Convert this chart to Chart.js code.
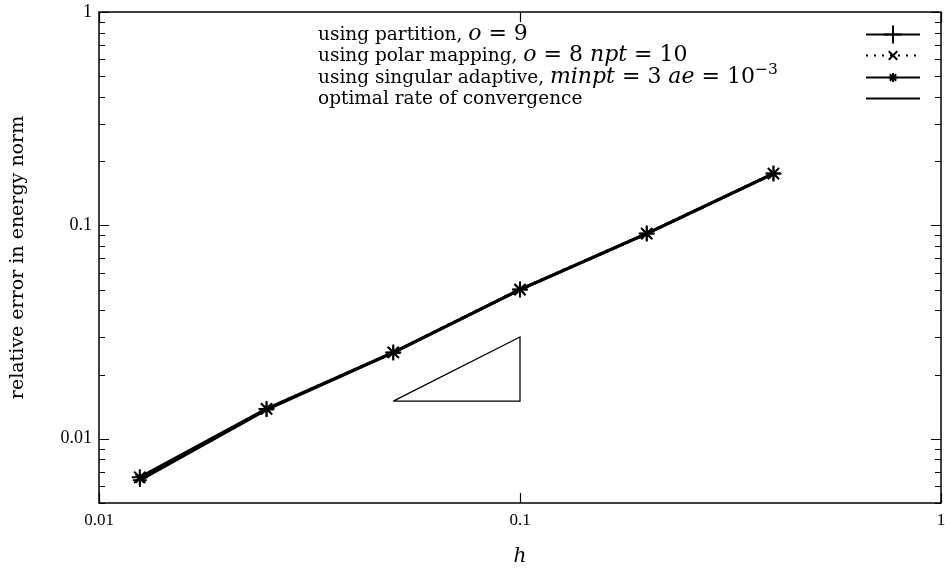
<!DOCTYPE html>
<html>
<head>
<meta charset="utf-8">
<script src="https://cdn.jsdelivr.net/npm/chart.js@4/dist/chart.umd.min.js"></script>
<style>
  html, body { margin: 0; padding: 0; background: #fff; }
  #chart { display: block; }
</style>
</head>
<body>
<canvas id="chart" width="945" height="571"></canvas>
<script>
// mesh size h and the error of each method
const hValues = [0.0125, 0.025, 0.05, 0.1, 0.2, 0.4];
const partitionErr = [0.0064, 0.0137, 0.0253, 0.0500, 0.0915, 0.175];
const polarErr = [0.0065, 0.0138, 0.0254, 0.0501, 0.0916, 0.175];
const adaptiveErr = [0.0066, 0.0138, 0.0254, 0.0500, 0.0916, 0.175];

// slope-1 reference triangle
const rateH = [0.05, 0.1, 0.1, 0.05];
const rateErr = [0.015, 0.015, 0.03, 0.015];

const xTickValues = [0.01, 0.1, 1];
const yTickValues = [0.005, 0.006, 0.007, 0.008, 0.009,
                     0.01, 0.02, 0.03, 0.04, 0.05, 0.06, 0.07, 0.08, 0.09,
                     0.1, 0.2, 0.3, 0.4, 0.5, 0.6, 0.7, 0.8, 0.9, 1];
const yLabelValues = [0.01, 0.1, 1];

// key entries: [text, style] pieces, r = roman, i = math italic, m = math roman, s = superscript
const keyRows = [
  [["using partition, ", "r"], ["o", "i"], [" = 9", "m"]],
  [["using polar mapping, ", "r"], ["o", "i"], [" = 8 ", "m"], ["npt", "i"], [" = 10", "m"]],
  [["using singular adaptive, ", "r"], ["minpt", "i"], [" = 3 ", "m"], ["ae", "i"], [" = 10", "m"], ["\u22123", "s"]],
  [["optimal rate of convergence", "r"]]
];

const SERIF = "'DejaVu Serif', 'Liberation Serif', serif";
const NARROW = "'Liberation Serif', serif";

const keyFonts = {
  r: "18.5px " + SERIF,
  i: "italic 22px " + SERIF,
  m: "22px " + SERIF,
  s: "15.5px " + SERIF
};

function toPoints(xs, ys) {
  return xs.map((x, i) => ({ x: x, y: ys[i] }));
}

// frame plus inward ticks on all four sides
const frameTicks = {
  id: "frameTicks",
  afterDraw(chart) {
    const ctx = chart.ctx;
    const area = chart.chartArea;
    const xs = chart.scales.x;
    const ys = chart.scales.y;
    ctx.save();
    ctx.strokeStyle = "#000";
    ctx.lineWidth = 1.5;
    ctx.strokeRect(area.left, area.top, area.right - area.left, area.bottom - area.top);
    ctx.lineWidth = 1.2;
    ctx.beginPath();
    yTickValues.forEach(v => {
      const py = Math.round(ys.getPixelForValue(v)) + 0.5;
      const len = yLabelValues.includes(v) ? 10 : 6;
      ctx.moveTo(area.left, py);
      ctx.lineTo(area.left + len, py);
      ctx.moveTo(area.right, py);
      ctx.lineTo(area.right - len, py);
    });
    xTickValues.forEach(v => {
      const px = Math.round(xs.getPixelForValue(v)) + 0.5;
      ctx.moveTo(px, area.bottom);
      ctx.lineTo(px, area.bottom - 10);
      ctx.moveTo(px, area.top);
      ctx.lineTo(px, area.top + 10);
    });
    ctx.stroke();
    ctx.restore();
  }
};

// gnuplot style key in the top right corner
const keyBox = {
  id: "keyBox",
  afterDraw(chart) {
    const ctx = chart.ctx;
    const textLeft = 318;
    const sampleLeft = 866, sampleRight = 920;
    const rowY = [34, 55, 77, 98];
    ctx.save();
    ctx.fillStyle = "#000";
    ctx.textBaseline = "alphabetic";
    keyRows.forEach((row, i) => {
      let x = textLeft;
      const base = rowY[i] + 6;
      row.forEach(([text, style]) => {
        ctx.font = keyFonts[style];
        const y = style === "s" ? base - 9 : base;
        ctx.fillText(text, x, y);
        x += ctx.measureText(text).width;
      });

      const ds = chart.data.datasets[i];
      const cy = rowY[i] + 0.5;
      ctx.strokeStyle = "#000";
      ctx.lineWidth = 2;
      ctx.setLineDash(ds.borderDash || []);
      ctx.beginPath();
      ctx.moveTo(sampleLeft, cy);
      ctx.lineTo(sampleRight, cy);
      ctx.stroke();
      ctx.setLineDash([]);
      if (ds.keyPoint) {
        Chart.helpers.drawPoint(ctx, {
          pointStyle: ds.pointStyle,
          radius: ds.keyPoint,
          borderWidth: 1.8,
          rotation: 0
        }, (sampleLeft + sampleRight) / 2, cy);
      }
    });
    ctx.restore();
  }
};

new Chart(document.getElementById("chart"), {
  type: "line",
  data: {
    datasets: [
      {
        label: "using partition, o = 9",
        data: toPoints(hValues, partitionErr),
        borderColor: "#000",
        backgroundColor: "#000",
        borderWidth: 3,
        pointStyle: "cross",
        pointRadius: 7,
        pointBorderWidth: 1.8,
        keyPoint: 9
      },
      {
        label: "using polar mapping, o = 8 npt = 10",
        data: toPoints(hValues, polarErr),
        borderColor: "#000",
        backgroundColor: "#000",
        borderWidth: 3,
        borderDash: [2, 6],
        pointStyle: "crossRot",
        pointRadius: 6,
        pointBorderWidth: 1.8,
        keyPoint: 6
      },
      {
        label: "using singular adaptive, minpt = 3 ae = 10^-3",
        data: toPoints(hValues, adaptiveErr),
        borderColor: "#000",
        backgroundColor: "#000",
        borderWidth: 3,
        pointStyle: "star",
        pointRadius: 8,
        pointBorderWidth: 2,
        keyPoint: 4.5
      },
      {
        label: "optimal rate of convergence",
        data: toPoints(rateH, rateErr),
        borderColor: "#000",
        borderWidth: 1.3,
        pointRadius: 0
      }
    ]
  },
  options: {
    responsive: false,
    devicePixelRatio: 1,
    animation: false,
    layout: { autoPadding: false, padding: { top: 12, right: 4, left: 0, bottom: 0 } },
    plugins: {
      legend: { display: false },
      tooltip: { enabled: false }
    },
    elements: { line: { tension: 0 } },
    scales: {
      x: {
        type: "logarithmic",
        min: 0.01,
        max: 1,
        grid: { display: false, drawTicks: false },
        border: { display: false },
        afterBuildTicks: s => { s.ticks = xTickValues.map(v => ({ value: v })); },
        afterFit: s => { s.height = 68; s.paddingLeft = 0; s.paddingRight = 0; },
        ticks: {
          autoSkip: false,
          maxRotation: 0,
          padding: 7,
          color: "#000",
          font: { family: NARROW, size: 17 },
          callback: v => String(v)
        },
        title: {
          display: true,
          text: "h",
          color: "#000",
          font: { family: SERIF, size: 20, style: "italic" },
          padding: { top: 0, bottom: 2 }
        }
      },
      y: {
        type: "logarithmic",
        min: 0.005,
        max: 1,
        grid: { display: false, drawTicks: false },
        border: { display: false },
        afterBuildTicks: s => { s.ticks = yTickValues.map(v => ({ value: v })); },
        afterFit: s => { s.width = 99; s.paddingTop = 0; s.paddingBottom = 0; },
        ticks: {
          autoSkip: false,
          padding: 7,
          color: "#000",
          font: { family: NARROW, size: 18 },
          callback: v => yLabelValues.includes(v) ? String(v) : ""
        },
        title: {
          display: true,
          text: "relative error in energy norm",
          color: "#000",
          font: { family: SERIF, size: 19 },
          padding: { top: 7, bottom: 0 }
        }
      }
    }
  },
  plugins: [frameTicks, keyBox]
});
</script>
</body>
</html>
